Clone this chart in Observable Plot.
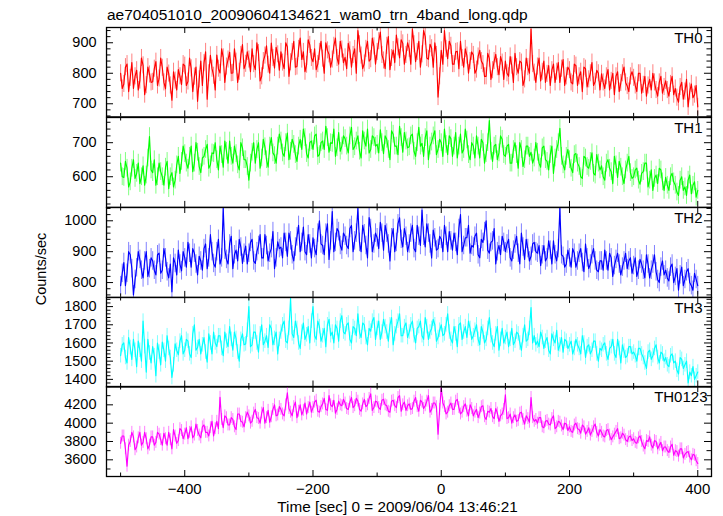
<!DOCTYPE html>
<html><head><meta charset="utf-8">
<script src="https://cdn.jsdelivr.net/npm/d3@7"></script>
<script src="https://cdn.jsdelivr.net/npm/@observablehq/plot@0.6"></script>
<style>
body{margin:0;background:#fff;}
#wrap{position:relative;width:723px;height:516px;font-family:"Liberation Sans",Arial,Helvetica,sans-serif;color:#000;overflow:hidden;}
.lbl{position:absolute;white-space:nowrap;line-height:1;}
</style></head><body><div id="wrap"></div>
<script>
// time grid: bins start at T_START every T_STEP s; the "b" arrays hold the bins offset by half a step
const T_START = -500, T_STEP = 5;
const panelNames = ["TH0", "TH1", "TH2", "TH3", "TH0123"];
const colors = ["#ff0000", "#00ff00", "#0000ff", "#00ffff", "#ff00ff"];

const th0a = [
 800, 765, 830, 785, 750, 810, 776, 826, 761, 796,
 772, 838, 783, 818, 749, 799, 712, 776, 812, 763,
 825, 773, 816, 789, 708, 840, 833, 715, 859, 792,
 860, 801, 852, 822, 869, 801, 838, 805, 894, 831,
 845, 880, 812, 866, 790, 858, 828, 899, 817, 862,
 870, 815, 886, 836, 905, 822, 915, 870, 828, 893,
 838, 812, 870, 848, 900, 862, 845, 915, 830, 878,
 852, 898, 820, 880, 940, 858, 832, 905, 846, 888,
 870, 935, 842, 890, 812, 876, 925, 850, 898, 860,
 880, 945, 838, 905, 862, 920, 846, 882, 900, 722,
 875, 940, 848, 890, 830, 872, 905, 820, 858, 840,
 860, 812, 875, 830, 790, 848, 810, 862, 795, 835,
 840, 790, 825, 865, 800, 835, 780, 820, 945, 802,
 822, 775, 840, 798, 760, 830, 805, 770, 845, 790,
 810, 765, 825, 790, 740, 815, 780, 835, 772, 800,
 798, 750, 812, 775, 730, 805, 768, 820, 758, 790,
 785, 740, 800, 762, 725, 780, 800, 745, 770, 735,
 775, 725, 790, 750, 705, 770, 740, 690, 765, 730,
 690];
const th0b = [
 750, 820, 740, 835, 790, 745, 850, 730, 820, 770,
 815, 760, 850, 770, 820, 760, 805, 745, 790, 830,
 760, 850, 740, 820, 780, 760, 870, 800, 815, 745,
 815, 880, 770, 845, 800, 880, 770, 860, 815, 870,
 805, 830, 900, 775, 840, 890, 800, 850, 885, 810,
 835, 900, 790, 870, 820, 880, 845, 805, 910, 850,
 880, 830, 905, 800, 875, 820, 890, 850, 905, 835,
 815, 875, 860, 800, 895, 815, 880, 840, 915, 830,
 905, 860, 815, 920, 850, 835, 885, 910, 830, 900,
 830, 895, 870, 820, 940, 850, 895, 820, 860, 790,
 830, 880, 905, 830, 870, 815, 850, 880, 800, 870,
 800, 855, 840, 790, 865, 780, 840, 820, 855, 780,
 800, 855, 770, 820, 840, 760, 850, 800, 830, 770,
 850, 805, 770, 825, 810, 770, 835, 815, 760, 820,
 770, 830, 760, 805, 820, 755, 800, 760, 810, 745,
 770, 790, 745, 800, 790, 740, 800, 770, 740, 805,
 760, 800, 735, 790, 760, 745, 770, 725, 790, 755,
 745, 765, 730, 720, 755, 715, 780, 740, 720, 760];

const th1a = [
 640, 598, 625, 585, 650, 610, 580, 632, 605, 718,
 612, 575, 640, 600, 628, 565, 612, 590, 660, 645,
 668, 625, 690, 640, 672, 612, 660, 695, 635, 668,
 650, 690, 628, 675, 705, 640, 668, 620, 685, 650,
 590, 672, 640, 700, 655, 688, 628, 715, 662, 690,
 705, 660, 728, 675, 695, 645, 710, 740, 668, 700,
 680, 725, 665, 705, 748, 672, 698, 660, 730, 690,
 712, 670, 745, 688, 720, 655, 705, 740, 680, 715,
 695, 738, 668, 710, 650, 725, 690, 748, 672, 705,
 688, 725, 660, 745, 698, 715, 650, 702, 735, 680,
 700, 740, 665, 712, 690, 655, 725, 680, 708, 650,
 690, 720, 655, 700, 668, 765, 645, 695, 670, 710,
 660, 695, 640, 700, 625, 680, 650, 690, 672, 655,
 672, 628, 690, 645, 665, 610, 680, 742, 635, 660,
 650, 612, 668, 630, 595, 655, 625, 670, 605, 640,
 632, 590, 650, 615, 660, 598, 628, 580, 640, 612,
 600, 625, 578, 615, 640, 590, 560, 605, 625, 585,
 598, 560, 610, 575, 545, 600, 570, 590, 550, 585,
 560];
const th1b = [
 600, 645, 570, 625, 595, 640, 600, 575, 655, 620,
 650, 600, 615, 575, 645, 600, 570, 635, 610, 690,
 640, 660, 615, 700, 630, 655, 680, 625, 670, 700,
 620, 665, 705, 640, 660, 690, 635, 700, 650, 630,
 640, 700, 680, 625, 710, 650, 690, 670, 640, 725,
 670, 700, 650, 710, 665, 690, 680, 715, 655, 705,
 720, 660, 700, 680, 715, 700, 740, 685, 675, 720,
 690, 720, 680, 705, 675, 735, 690, 670, 720, 690,
 670, 700, 720, 680, 735, 690, 665, 715, 730, 685,
 720, 675, 700, 690, 660, 735, 690, 720, 665, 710,
 660, 695, 720, 660, 730, 690, 670, 740, 665, 700,
 655, 690, 710, 640, 700, 675, 690, 650, 720, 665,
 690, 640, 680, 665, 700, 630, 690, 660, 640, 700,
 640, 685, 650, 620, 690, 655, 700, 660, 620, 680,
 625, 665, 640, 600, 660, 630, 645, 610, 665, 620,
 600, 640, 625, 580, 635, 645, 600, 620, 660, 595,
 620, 590, 610, 640, 570, 620, 595, 580, 620, 560,
 575, 600, 585, 555, 590, 560, 545, 605, 575, 540];

const th2a = [
 790, 865, 830, 890, 760, 848, 875, 815, 900, 845,
 870, 825, 895, 840, 880, 815, 770, 862, 905, 838,
 880, 930, 850, 895, 825, 870, 910, 845, 955, 862,
 900, 860, 1040, 875, 925, 845, 905, 940, 862, 918,
 895, 940, 862, 920, 880, 955, 870, 910, 845, 932,
 915, 960, 885, 935, 870, 948, 900, 980, 890, 925,
 945, 890, 1000, 920, 960, 875, 1030, 930, 965, 905,
 950, 910, 985, 935, 1040, 900, 958, 880, 975, 925,
 945, 995, 905, 960, 870, 975, 930, 1010, 915, 950,
 925, 985, 900, 950, 1035, 915, 960, 880, 945, 910,
 940, 985, 900, 935, 960, 890, 1020, 920, 945, 895,
 915, 960, 880, 930, 1000, 895, 935, 860, 920, 950,
 900, 940, 870, 925, 895, 960, 875, 910, 885, 930,
 895, 855, 920, 880, 905, 935, 870, 1040, 885, 860,
 880, 910, 850, 895, 865, 925, 845, 890, 870, 835,
 870, 905, 840, 880, 855, 895, 825, 870, 845, 880,
 855, 820, 875, 840, 890, 815, 860, 835, 800, 870,
 840, 805, 860, 820, 775, 850, 810, 845, 790, 830,
 790];
const th2b = [
 830, 790, 900, 845, 810, 900, 840, 870, 820, 880,
 840, 890, 830, 910, 835, 860, 880, 825, 860, 900,
 850, 895, 910, 860, 885, 840, 925, 880, 900, 850,
 940, 880, 905, 860, 950, 890, 870, 915, 895, 860,
 930, 870, 900, 955, 880, 920, 895, 965, 880, 910,
 880, 930, 960, 890, 915, 985, 930, 900, 955, 880,
 910, 960, 925, 890, 990, 935, 900, 975, 920, 960,
 920, 975, 900, 960, 930, 985, 920, 1010, 900, 960,
 910, 960, 985, 925, 945, 900, 990, 940, 975, 900,
 960, 910, 985, 920, 950, 990, 925, 970, 905, 950,
 900, 950, 965, 905, 930, 975, 900, 945, 985, 920,
 950, 890, 940, 965, 905, 930, 975, 900, 890, 930,
 925, 880, 905, 950, 860, 915, 940, 870, 925, 900,
 920, 890, 870, 935, 860, 890, 910, 890, 850, 905,
 850, 895, 870, 910, 835, 880, 860, 910, 840, 870,
 840, 870, 895, 820, 875, 860, 850, 895, 870, 830,
 880, 840, 860, 815, 860, 840, 890, 810, 850, 825,
 815, 850, 800, 845, 825, 790, 835, 800, 775, 810];

const th3a = [
 1530, 1600, 1490, 1575, 1620, 1470, 1560, 1720, 1440, 1545,
 1580, 1420, 1550, 1605, 1500, 1570, 1410, 1595, 1535, 1640,
 1560, 1610, 1520, 1700, 1575, 1540, 1630, 1495, 1600, 1660,
 1580, 1640, 1530, 1610, 1690, 1560, 1625, 1500, 1650, 1595,
 1800, 1590, 1660, 1550, 1700, 1610, 1575, 1680, 1625, 1540,
 1660, 1720, 1600, 1845, 1630, 1680, 1570, 1710, 1645, 1600,
 1800, 1620, 1690, 1640, 1580, 1730, 1660, 1700, 1610, 1750,
 1650, 1710, 1600, 1680, 1760, 1630, 1700, 1590, 1665, 1740,
 1680, 1620, 1730, 1660, 1700, 1590, 1690, 1760, 1640, 1710,
 1660, 1720, 1600, 1690, 1640, 1740, 1620, 1680, 1700, 1630,
 1700, 1650, 1760, 1620, 1690, 1580, 1710, 1660, 1630, 1680,
 1640, 1700, 1590, 1660, 1620, 1740, 1600, 1650, 1560, 1680,
 1630, 1580, 1680, 1610, 1650, 1560, 1700, 1620, 1795, 1640,
 1610, 1660, 1570, 1630, 1540, 1620, 1670, 1590, 1550, 1610,
 1590, 1540, 1620, 1570, 1640, 1520, 1590, 1560, 1610, 1500,
 1560, 1600, 1510, 1580, 1540, 1620, 1490, 1555, 1530, 1580,
 1550, 1500, 1570, 1520, 1460, 1560, 1530, 1590, 1490, 1540,
 1520, 1470, 1540, 1500, 1430, 1510, 1480, 1380, 1420, 1400,
 1440];
const th3b = [
 1590, 1520, 1630, 1510, 1560, 1610, 1500, 1580, 1620, 1490,
 1530, 1600, 1480, 1560, 1640, 1520, 1480, 1560, 1610, 1540,
 1620, 1540, 1650, 1560, 1620, 1590, 1550, 1650, 1540, 1600,
 1640, 1570, 1660, 1580, 1620, 1660, 1550, 1620, 1590, 1670,
 1580, 1660, 1600, 1650, 1590, 1640, 1700, 1590, 1660, 1620,
 1700, 1610, 1680, 1650, 1720, 1600, 1660, 1620, 1690, 1720,
 1640, 1720, 1610, 1680, 1700, 1640, 1600, 1680, 1720, 1660,
 1700, 1620, 1690, 1640, 1660, 1710, 1630, 1680, 1720, 1620,
 1720, 1660, 1690, 1610, 1740, 1650, 1720, 1640, 1690, 1630,
 1700, 1640, 1680, 1720, 1620, 1690, 1660, 1730, 1610, 1670,
 1640, 1700, 1660, 1600, 1650, 1700, 1620, 1690, 1720, 1620,
 1670, 1620, 1690, 1600, 1680, 1640, 1580, 1690, 1620, 1600,
 1660, 1620, 1590, 1660, 1600, 1640, 1610, 1680, 1600, 1590,
 1580, 1630, 1610, 1560, 1650, 1600, 1560, 1630, 1620, 1570,
 1610, 1570, 1590, 1540, 1600, 1580, 1540, 1610, 1540, 1570,
 1590, 1540, 1570, 1620, 1520, 1570, 1590, 1520, 1580, 1540,
 1530, 1570, 1540, 1490, 1550, 1510, 1570, 1520, 1550, 1500,
 1480, 1530, 1490, 1450, 1520, 1460, 1500, 1440, 1470, 1420];

const th0123a = [
 3780, 3860, 3530, 3800, 3850, 3740, 3900, 3790, 3830, 3760,
 3850, 3790, 3880, 3760, 3830, 3900, 3720, 3860, 3810, 3920,
 3880, 3830, 3960, 3870, 3920, 3840, 3980, 3900, 3950, 3860,
 4020, 4283, 3950, 4060, 3980, 4040, 3930, 4100, 4010, 4060,
 4080, 4020, 4150, 4050, 4110, 4000, 4140, 4070, 4200, 4090,
 4150, 4080, 4330, 4120, 4180, 4060, 4200, 4140, 4100, 4230,
 4170, 4250, 4120, 4210, 4150, 4300, 4180, 4110, 4240, 4190,
 4220, 4150, 4280, 4190, 4240, 4130, 4260, 4200, 4320, 4170,
 4230, 4150, 4260, 4190, 4120, 4250, 4170, 4300, 4200, 4140,
 4210, 4160, 4280, 4130, 4230, 4190, 4300, 4150, 4220, 3880,
 4390, 4180, 4120, 4220, 4150, 4260, 4100, 4180, 4130, 4200,
 4080, 4150, 4110, 4190, 4040, 4120, 4070, 4160, 4020, 4100,
 4310, 4060, 4000, 4090, 4030, 4120, 3990, 4050, 4280, 4020,
 4000, 4060, 3950, 4030, 3980, 4080, 3960, 4010, 3930, 3990,
 3960, 3900, 4000, 3930, 3980, 3880, 3950, 3910, 3990, 3860,
 3900, 3850, 3930, 3820, 3880, 3940, 3840, 3870, 3800, 3860,
 3830, 3780, 3860, 3750, 3810, 3850, 3730, 3800, 3760, 3700,
 3740, 3680, 3770, 3700, 3640, 3720, 3660, 3690, 3600, 3650,
 3560];
const th0123b = [
 3860, 3720, 3760, 3900, 3710, 3840, 3760, 3900, 3720, 3850,
 3760, 3900, 3820, 3890, 3760, 3820, 3930, 3780, 3940, 3830,
 3950, 3900, 3840, 3990, 3870, 3960, 3900, 3860, 4020, 3940,
 3940, 4040, 4080, 3980, 4060, 3960, 4100, 4020, 3960, 4120,
 4000, 4110, 4060, 4000, 4170, 4060, 4010, 4150, 4080, 4180,
 4100, 4200, 4160, 4080, 4230, 4130, 4090, 4220, 4170, 4120,
 4230, 4130, 4180, 4270, 4140, 4200, 4250, 4150, 4200, 4260,
 4160, 4230, 4170, 4270, 4150, 4210, 4180, 4270, 4140, 4240,
 4170, 4250, 4200, 4130, 4240, 4190, 4280, 4130, 4230, 4190,
 4150, 4240, 4180, 4250, 4160, 4240, 4120, 4220, 4180, 4150,
 4220, 4100, 4190, 4150, 4240, 4170, 4120, 4210, 4080, 4160,
 4120, 4060, 4180, 4070, 4130, 4160, 4050, 4110, 4080, 4150,
 4050, 4100, 4060, 4020, 4110, 4040, 4080, 4010, 4060, 4040,
 4060, 3960, 4020, 3990, 4050, 3940, 4020, 3970, 4000, 3920,
 3910, 3980, 3940, 3890, 3960, 3910, 3870, 3960, 3900, 3930,
 3860, 3920, 3870, 3850, 3910, 3830, 3890, 3820, 3850, 3810,
 3790, 3840, 3800, 3720, 3800, 3760, 3810, 3720, 3790, 3740,
 3700, 3740, 3650, 3690, 3720, 3620, 3680, 3630, 3660, 3590];

// typical 1-sigma error per band (counts/sec)
const errors = [28, 26, 30, 40, 65];

const yDomains = [[657, 950], [510, 774], [752, 1043], [1358, 1850], [3418, 4400]];
const yMajor = [[700, 800, 900], [600, 700], [800, 900, 1000], [1400, 1500, 1600, 1700, 1800], [3600, 3800, 4000, 4200]];
const yMinorStep = [20, 20, 20, 20, 100];
const xDomain = [-522, 421.4];
const xMajor = [-400, -200, 0, 200, 400];
const xMinor = [-500, -300, -100, 100, 300];

const titleText = "ae704051010_20090604134621_wam0_trn_4band_long.qdp";
const yLabel = "Counts/sec";
const xLabel = "Time [sec] 0 = 2009/06/04 13:46:21";

const wrap = document.getElementById("wrap");
const font = '"Liberation Sans", Arial, Helvetica, sans-serif';
const seriesA = [th0a, th1a, th2a, th3a, th0123a];
const seriesB = [th0b, th1b, th2b, th3b, th0123b];
const tops = [27.3, 116.7, 206.6, 296.5, 386, 476];
const W = 723, ML = 106, MR = 12, innerW = W - ML - MR;

seriesA.forEach((valsA, i) => {
  const data = valsA.map((v, k) => ({t: T_START + k * T_STEP, v, e: errors[i]}))
    .concat(seriesB[i].map((v, k) => ({t: T_START + T_STEP / 2 + k * T_STEP, v, e: errors[i]})))
    .sort((a, b) => a.t - b.t);
  const h = tops[i + 1] - tops[i];
  const last = i === seriesA.length - 1;
  const mt = 8, mb = last ? 40 : 8;
  const [lo, hi] = yDomains[i];
  const st = yMinorStep[i];
  const minors = d3.range(Math.ceil(lo / st) * st, hi, st).filter(v => !yMajor[i].includes(v));
  const marks = [
    Plot.ruleX(data, {x: "t", y1: d => d.v - d.e, y2: d => d.v + d.e, stroke: colors[i], strokeOpacity: 0.5, strokeWidth: 1, clip: true}),
    Plot.line(data, {x: "t", y: "v", stroke: colors[i], strokeWidth: 1.15, clip: true}),
    Plot.ruleY(yMajor[i], {insetRight: innerW - 7, stroke: "#000"}),
    Plot.ruleY(yMajor[i], {insetLeft: innerW - 7, stroke: "#000"}),
    Plot.ruleY(minors, {insetRight: innerW - 4.5, stroke: "#000"}),
    Plot.ruleY(minors, {insetLeft: innerW - 4.5, stroke: "#000"}),
    Plot.ruleX(xMajor, {insetTop: h - 6, stroke: "#000"}),
    Plot.ruleX(xMajor, {insetBottom: h - 6, stroke: "#000"}),
    Plot.ruleX(xMinor, {insetTop: h - 3.5, stroke: "#000"}),
    Plot.ruleX(xMinor, {insetBottom: h - 3.5, stroke: "#000"}),
    Plot.axisY({ticks: yMajor[i], tickSize: 0, tickPadding: 10, tickFormat: d3.format("d"), label: null, fontSize: 14.5}),
    Plot.frame({stroke: "#000", strokeWidth: 1.3}),
    Plot.text([panelNames[i]], {text: d => d, frameAnchor: "top-right", dx: last ? -4 : -9, dy: 5.3, fontSize: 15, fill: "#000"})
  ];
  if (last) marks.push(Plot.axisX({ticks: xMajor, tickSize: 0, tickPadding: 6.7, tickFormat: d3.format("d"), label: null, fontSize: 15}));
  const svg = Plot.plot({
    width: W, height: h + mt + mb,
    marginTop: mt, marginBottom: mb, marginLeft: ML, marginRight: MR,
    x: {domain: xDomain, axis: null},
    y: {domain: yDomains[i], axis: null},
    style: {background: "transparent", fontFamily: font, fontSize: "14.5px", overflow: "visible"},
    marks
  });
  svg.style.position = "absolute";
  svg.style.left = "0px";
  svg.style.top = (tops[i] - mt) + "px";
  wrap.appendChild(svg);
});

const title = document.createElement("div");
title.className = "lbl";
title.style.cssText = "left:107px;top:6.9px;font-size:15.5px;";
title.textContent = titleText;
wrap.appendChild(title);

const xl = document.createElement("div");
xl.className = "lbl";
xl.style.cssText = "left:397.5px;top:498.8px;font-size:15.3px;transform:translateX(-50%);";
xl.textContent = xLabel;
wrap.appendChild(xl);

const ov = d3.create("svg").attr("width", 80).attr("height", 516)
  .style("position", "absolute").style("left", "0px").style("top", "0px").style("overflow", "visible");
ov.append("text").attr("transform", "translate(46,269) rotate(-90)")
  .attr("text-anchor", "middle").attr("font-family", font).attr("font-size", 14.5).attr("fill", "#000")
  .text(yLabel);
wrap.appendChild(ov.node());
</script>
</body></html>
